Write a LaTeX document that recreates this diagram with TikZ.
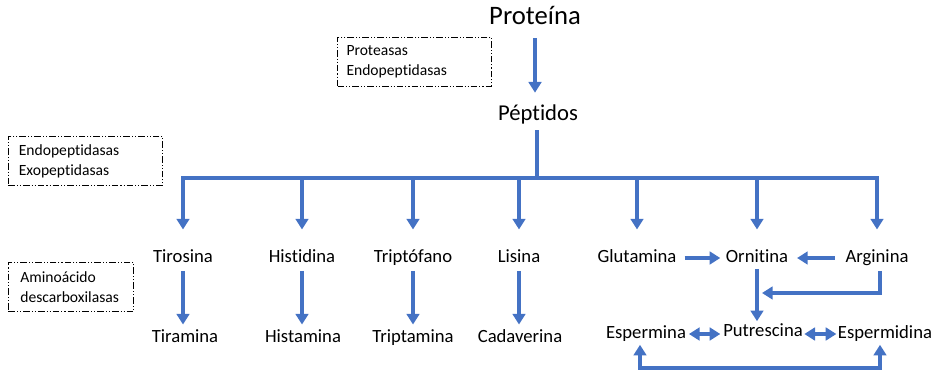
\documentclass[tikz,border=0pt]{standalone}
\usepackage{fontspec}
\setmainfont{Carlito}[Ligatures=NoCommon]
\usetikzlibrary{arrows.meta, positioning}
\definecolor{flowblue}{HTML}{4472C4}

\begin{document}
\begin{tikzpicture}[x=0.75pt, y=-0.75pt,
    % Node styles
    compound/.style={inner sep=0pt, font=\fontsize{14}{16}\selectfont, text height=9.8pt, text depth=3pt},
    bigcompound/.style={inner sep=0pt, font=\fontsize{20}{23}\selectfont, text height=13.5pt, text depth=4pt},
    enzyme/.style={draw=black, line width=0.6pt, dash pattern=on 5pt off 1.5pt on 0.8pt off 1.5pt on 0.8pt off 1.5pt, align=left, inner ysep=0pt, minimum height=36.75pt, font=\fontsize{11.7}{15}\selectfont},
    % Edge styles
    link/.style={flowblue, line width=3pt},
    flow/.style={link, -{Triangle[width=9.5pt, length=8pt]}},
    swap/.style={link, {Triangle[width=9.5pt, length=8pt]}-{Triangle[width=9.5pt, length=8pt]}}
]
\useasboundingbox (0,0) rectangle (934,373);
% Top nodes
\node[bigcompound] (prot) at (535, 18) {Proteína};
\node[compound, font=\fontsize{17}{20}\selectfont, text height=12pt, text depth=3.5pt] (pept) at (538, 115) {Péptidos};
% Enzyme boxes
\node[enzyme, inner xsep=6.75pt, text width=102pt] (enz1) at (414.5, 61.5) {Proteasas\\Endopeptidasas};
\node[enzyme, inner xsep=8pt, text width=100pt] (enz2) at (85.5, 161) {Endopeptidasas\\Exopeptidasas};
\node[enzyme, inner xsep=9pt, text width=76pt] (enz3) at (71, 287) {Aminoácido\\descarboxilasas};
% Amino acids
\node[compound] (tiro) at (183, 258) {Tirosina};
\node[compound] (hist) at (302, 258) {Histidina};
\node[compound] (trip) at (413, 258) {Triptófano};
\node[compound] (lisi) at (519, 258) {Lisina};
\node[compound] (glut) at (637, 258) {Glutamina};
\node[compound] (orni) at (757, 258) {Ornitina};
\node[compound] (argi) at (877, 258) {Arginina};
% Amines
\node[compound] (tira) at (185, 338) {Tiramina};
\node[compound] (hista) at (303, 338) {Histamina};
\node[compound] (tripa) at (413, 338) {Triptamina};
\node[compound] (cada) at (520, 338) {Cadaverina};
\node[compound] (esper) at (646, 334) {Espermina};
\node[compound] (putr) at (763, 332) {Putrescina};
\node[compound] (espmd) at (885, 334) {Espermidina};
% Helper coordinates
\coordinate (hub) at (537, 178);
\coordinate (join) at (762, 293);
% Protein to peptides
\draw[flow, shorten <=6.2pt, shorten >=8.8pt] (prot) -- (prot |- pept.north);
\draw[link, shorten <=3.5pt] (pept.south -| hub) -- (hub);
\draw[link, line cap=rect] (tiro |- hub) -- (argi |- hub);
% Peptides to amino acids
\draw[flow, shorten >=14.8pt] (tiro |- hub) -- (tiro);
\draw[flow, shorten >=14.8pt] (hist |- hub) -- (hist);
\draw[flow, shorten >=14.8pt] (trip |- hub) -- (trip);
\draw[flow, shorten >=14.8pt] (lisi |- hub) -- (lisi);
\draw[flow, shorten >=14.8pt] (glut |- hub) -- (glut);
\draw[flow, shorten >=14.8pt] (orni |- hub) -- (orni);
\draw[flow, shorten >=14.8pt] (argi |- hub) -- (argi);
% Decarboxylation
\draw[flow, shorten <=3pt, shorten >=3.5pt] (tiro.south) -- (tiro.south |- tira.north);
\draw[flow, shorten <=3pt, shorten >=3.5pt] (hist.south) -- (hist.south |- hista.north);
\draw[flow, shorten <=3pt, shorten >=3.5pt] (trip.south) -- (trip.south |- tripa.north);
\draw[flow, shorten <=3pt, shorten >=3.5pt] (lisi.south) -- (lisi.south |- cada.north);
% Polyamine pathway
\draw[flow, shorten <=6pt, shorten >=4pt] (glut) -- (orni);
\draw[flow, shorten <=8pt, shorten >=6.5pt] (argi) -- (orni);
\draw[flow, shorten <=1.5pt, shorten >=1.5pt] (orni.south) -- (orni.south |- putr.north);
\draw[flow, shorten <=3pt] ([xshift=2.25pt]argi.south) |- (join);
\draw[swap, shorten <=2pt, shorten >=2pt] (esper.east) -- (esper.east -| putr.west);
\draw[swap, shorten <=1pt, shorten >=1pt] (espmd.west -| putr.east) -- (espmd.west);
\draw[swap, shorten <=1.5pt, shorten >=1.5pt] ([xshift=-4.5pt]esper.south) -- ++(0, 25) -| ([xshift=-3.75pt]espmd.south);
\end{tikzpicture}
\end{document}
